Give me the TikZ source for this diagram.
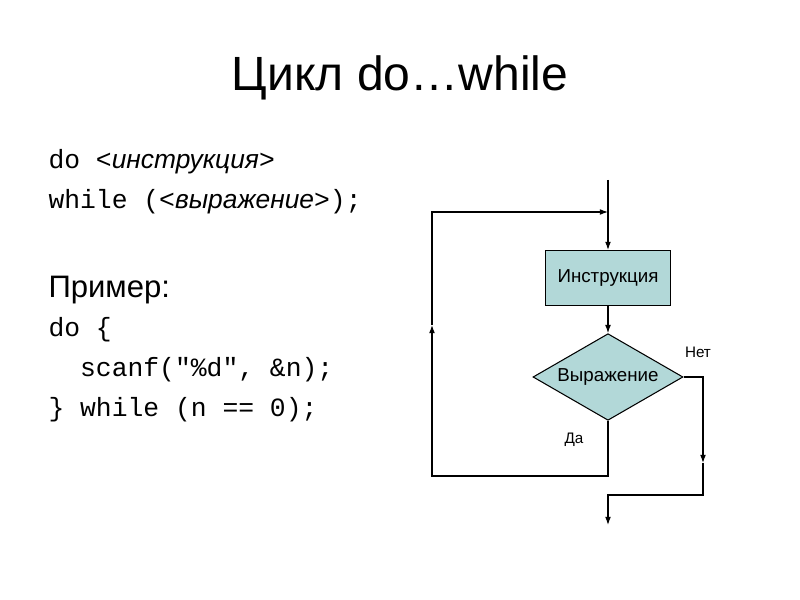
\documentclass[tikz,border=0pt]{standalone}
\usepackage{fontspec}
\setmainfont{Liberation Sans}
\setmonofont{Liberation Mono}
\usetikzlibrary{shapes.geometric, arrows.meta, positioning}
\definecolor{blockfill}{RGB}{178, 216, 216}

\begin{document}
\begin{tikzpicture}[x=0.03cm, y=-0.03cm, >={Latex[length=7pt, width=5pt]}, line width=0.9pt,
    block/.style={rectangle, draw, fill=blockfill, minimum width=3.75cm,
                  minimum height=1.65cm, font=\fontsize{16}{19}\selectfont},
    cond/.style={diamond, draw, fill=blockfill, aspect=1.75, inner sep=0pt,
                 minimum width=4.5cm, minimum height=2.6cm, font=\fontsize{16}{19}\selectfont},
    code/.style={anchor=west, font=\ttfamily\fontsize{22.5}{26}\selectfont, inner sep=0pt},
    lbl/.style={font=\fontsize{13}{15}\selectfont}]
    \useasboundingbox (0,0) rectangle (800,600);

    % Title
    \node (title) at (400,78) {\fontsize{41}{46}\selectfont Цикл do…while};

    % Syntax
    \node[code] (syn1) at (48,162) {do <\textit{\rmfamily инструкция}>};
    \node[code] (syn2) at (48,202) {while (<\textit{\rmfamily выражение}>);};
    \node[anchor=west, inner sep=0pt, font=\fontsize{26.5}{30}\selectfont] (ex) at (48,290) {Пример:};
    \node[code] (ex1) at (48,330) {do \{};
    \node[code] (ex2) at (48,370) {\ \ scanf("\%d", \&n);};
    \node[code] (ex3) at (48,410) {\} while (n == 0);};

    % Flowchart
    \node[block] (instr) at (608,278) {Инструкция};
    \node[cond] (expr) at (608,377) {Выражение};
    \coordinate (start) at (608,180);
    \coordinate (join) at (608,212);
    \coordinate (yesA) at (608,476);
    \coordinate (yesB) at (432,476);
    \coordinate (yesC) at (432,325);
    \coordinate (yesD) at (432,212);
    \coordinate (noA) at (703,377);
    \coordinate (noB) at (703,463);
    \coordinate (noC) at (703,495);
    \coordinate (noD) at (608,495);
    \coordinate (stop) at (608,525);

    \draw (start) -- (join);
    \draw[->] (join) -- (instr);
    \draw[->] (instr) -- (expr);
    \draw[->] (expr.south) -- (yesA) -- (yesB) -- (yesC);
    \draw[->] (yesC) -- (yesD) -- (join);
    \draw[->] (expr.east) -- (noA) -- (noB);
    \draw[->] (noB) -- (noC) -- (noD) -- (stop);

    \node[lbl] (yes) at (574,440) {Да};
    \node[lbl] (no) at (698,352) {Нет};
\end{tikzpicture}
\end{document}
